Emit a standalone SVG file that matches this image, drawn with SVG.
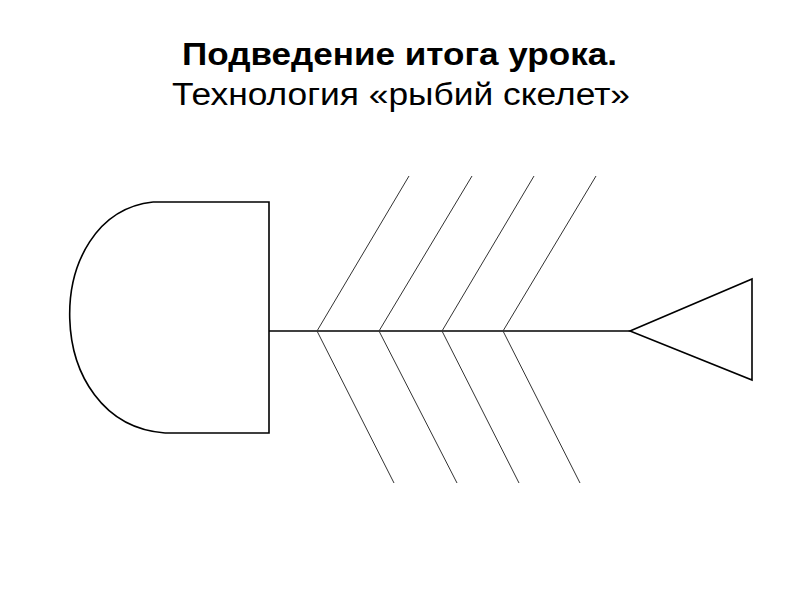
<svg xmlns="http://www.w3.org/2000/svg" width="800" height="600" viewBox="0 0 800 600">
<style>
.title{font-family:"Liberation Sans",Arial,sans-serif;font-size:31px;fill:#000}
.b{font-weight:bold}
.shape{fill:none;stroke:#000;stroke-width:1.6}
.bone{fill:none;stroke:#333;stroke-width:1}
</style>
<rect width="800" height="600" fill="#fff"/>
<text class="title b" x="182" y="65" textLength="435" lengthAdjust="spacingAndGlyphs">Подведение итога урока.</text>
<text class="title" x="172" y="105" textLength="458" lengthAdjust="spacingAndGlyphs">Технология «рыбий скелет»</text>
<g id="head">
<path class="shape" d="M153,202 H269 V433 H165 M153,202 C40,214 40,424 165,433"/>
</g>
<g id="tail">
<path class="shape" d="M630,331 L752,279 V380 Z"/>
</g>
<g id="connectors">
<line class="shape" x1="269" y1="331" x2="630" y2="331"/>
<path class="bone" d="M409,176 L317,331 L394,483"/>
<path class="bone" d="M472,176 L379,331 L457,483"/>
<path class="bone" d="M534,176 L442,331 L519,483"/>
<path class="bone" d="M596,176 L503,331 L580,483"/>
</g>
</svg>
